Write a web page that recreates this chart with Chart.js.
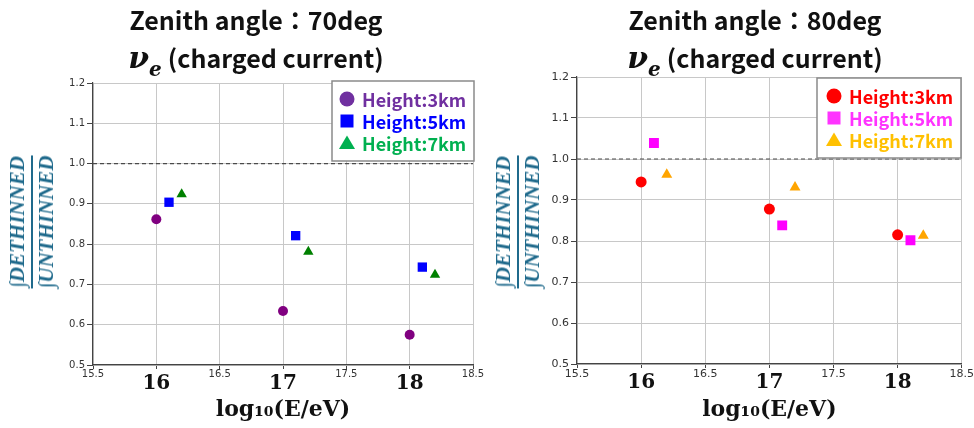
<!DOCTYPE html>
<html>
<head>
<meta charset="utf-8">
<script src="https://cdn.jsdelivr.net/npm/chart.js@4.4.0/dist/chart.umd.min.js"></script>
<style>
  body { margin: 0; background: #fff; }
  .wrap { display: flex; width: 974px; height: 428px; }
  .panel { position: relative; width: 487px; height: 428px; }
  .panel canvas { position: absolute; left: 0; top: 0; }
  .title {
    position: absolute; top: 0; text-align: center;
    font-family: "Noto Sans CJK JP", "Noto Sans", sans-serif;
    font-weight: bold; font-size: 25px; line-height: 38px; color: #111;
    z-index: 2;
  }
  .nu { font-family: "DejaVu Serif", serif; font-style: italic; font-weight: bold; font-size: 30px; }
  .sub { font-family: "DejaVu Serif", serif; font-style: italic; font-weight: bold; font-size: 20px;
         position: relative; top: 8px; margin-right: 6px; }
  .ylab {
    position: absolute; z-index: 2;
    transform: translate(-50%, -50%) rotate(-90deg);
    font-family: "Liberation Serif", serif; font-style: italic; font-weight: bold;
    font-size: 21px; line-height: 21px; color: #1f6a8c; white-space: nowrap; text-align: center;
  }
  .ylab .num { border-bottom: 2px solid #1f6a8c; padding-bottom: 3px; }
  .ylab .den { padding-top: 3px; }
</style>
</head>
<body>
<div class="wrap">
  <div class="panel">
    <div class="title" style="left:0;width:512px">Zenith angle：70deg<br><span class="nu">ν</span><span class="sub">e</span>(charged current)</div>
    <div class="ylab" style="left:32px;top:222px"><div class="num">∫DETHINNED</div><div class="den">∫UNTHINNED</div></div>
    <canvas id="c70" width="487" height="428"></canvas>
  </div>
  <div class="panel">
    <div class="title" style="left:0;width:536px">Zenith angle：80deg<br><span class="nu">ν</span><span class="sub">e</span>(charged current)</div>
    <div class="ylab" style="left:31px;top:222px"><div class="num">∫DETHINNED</div><div class="den">∫UNTHINNED</div></div>
    <canvas id="c80" width="487" height="428"></canvas>
  </div>
</div>
<script>
// energies (log10 E/eV), each height shifted a little so markers don't overlap
const xH3 = [16, 17, 18];
const xH5 = [16.1, 17.1, 18.1];
const xH7 = [16.2, 17.2, 18.2];

// ratio dethinned / unthinned, zenith 70deg
const ratio70H3 = [0.862, 0.634, 0.575];
const ratio70H5 = [0.904, 0.821, 0.743];
const ratio70H7 = [0.924, 0.781, 0.724];

// ratio dethinned / unthinned, zenith 80deg
const ratio80H3 = [0.944, 0.878, 0.815];
const ratio80H5 = [1.039, 0.838, 0.802];
const ratio80H7 = [0.962, 0.931, 0.813];

const seriesLabels = ['Height:3km', 'Height:5km', 'Height:7km'];
const xTickValues = [15.5, 16, 16.5, 17, 17.5, 18, 18.5];
const yTickValues = [0.5, 0.6, 0.7, 0.8, 0.9, 1.0, 1.1, 1.2];
const refLineX = [15.5, 18.5];
const refLineY = [1.0, 1.0];

const toPoints = (xs, ys) => xs.map((x, i) => ({ x: x, y: ys[i] }));
const isMajor = (c) => !!(c.tick && Number.isInteger(c.tick.value));

// white legend box drawn over the grid, inside the plot
const boxLegend = {
  id: 'boxLegend',
  afterDatasetsDraw(chart, args, opts) {
    const ctx = chart.ctx;
    ctx.save();
    ctx.fillStyle = '#fff';
    ctx.fillRect(opts.x, opts.y, opts.w, opts.h);
    ctx.strokeStyle = '#8a8a8a';
    ctx.lineWidth = 1.5;
    ctx.strokeRect(opts.x, opts.y, opts.w, opts.h);
    ctx.font = 'bold 18px "Noto Sans CJK JP", "Noto Sans", sans-serif';
    ctx.textBaseline = 'middle';
    opts.colors.forEach((col, i) => {
      const ds = chart.data.datasets[i];
      const cy = opts.rowY[i];
      const cx = opts.markX;
      ctx.fillStyle = col;
      ctx.beginPath();
      if (ds.pointStyle === 'circle') {
        ctx.arc(cx, cy, 7.5, 0, Math.PI * 2);
      } else if (ds.pointStyle === 'rect') {
        ctx.rect(cx - 6.5, cy - 6.5, 13, 13);
      } else {
        ctx.moveTo(cx, cy - 7.5);
        ctx.lineTo(cx + 8, cy + 6);
        ctx.lineTo(cx - 8, cy + 6);
        ctx.closePath();
      }
      ctx.fill();
      ctx.fillText(ds.label, opts.textX, cy + 1);
    });
    ctx.restore();
  }
};

function makeChart(id, ys, markerColors, legendColors, lay) {
  const styles = ['circle', 'rect', 'triangle'];
  const xs = [xH3, xH5, xH7];
  const datasets = ys.map((y, i) => ({
    type: 'scatter',
    label: seriesLabels[i],
    data: toPoints(xs[i], y),
    pointStyle: styles[i],
    pointRadius: lay.radius[i],
    pointHoverRadius: lay.radius[i],
    backgroundColor: markerColors[i],
    borderWidth: 0
  }));
  datasets.push({
    type: 'line',
    label: 'ref',
    data: toPoints(refLineX, refLineY),
    borderColor: '#4a4a4a',
    borderWidth: 1.2,
    borderDash: [4, 3],
    pointRadius: 0
  });

  return new Chart(document.getElementById(id), {
    type: 'scatter',
    data: { datasets: datasets },
    plugins: [boxLegend],
    options: {
      responsive: false,
      animation: false,
      layout: { padding: { top: lay.top, right: lay.right, left: 0, bottom: 0 } },
      plugins: {
        legend: { display: false },
        tooltip: { enabled: false },
        boxLegend: Object.assign({ colors: legendColors }, lay.legend)
      },
      scales: {
        x: {
          type: 'linear', min: 15.5, max: 18.5,
          afterBuildTicks: (s) => { s.ticks = xTickValues.map(v => ({ value: v })); },
          afterFit: (s) => { s.height = lay.xAxisH; },
          grid: { color: '#c8c8c8', tickColor: '#444', tickLength: 4 },
          border: { color: '#444', width: 1.2 },
          ticks: {
            padding: 0,
            maxRotation: 0,
            autoSkip: false,
            color: (c) => isMajor(c) ? '#111' : '#333',
            font: (c) => isMajor(c)
              ? { family: 'DejaVu Serif', size: 20, weight: 'bold', lineHeight: 1.5 }
              : { family: 'DejaVu Sans', size: lay.smallFont, lineHeight: 1.1 },
            callback: (v) => Number.isInteger(v) ? String(v) : v.toFixed(1)
          },
          title: {
            display: true,
            text: 'log₁₀(E/eV)',
            color: '#111',
            font: { family: 'DejaVu Serif', size: 22, weight: 'bold' },
            padding: { top: 0, bottom: 5 }
          }
        },
        y: {
          min: 0.5, max: 1.2,
          afterBuildTicks: (s) => { s.ticks = yTickValues.map(v => ({ value: v })); },
          afterFit: (s) => { s.width = lay.yAxisW; },
          grid: { color: '#c8c8c8', tickColor: '#444', tickLength: 6 },
          border: { color: '#444', width: 1.2 },
          ticks: {
            padding: 2,
            color: '#333',
            font: { family: 'DejaVu Sans', size: lay.smallFont },
            callback: (v) => v.toFixed(1)
          }
        }
      }
    }
  });
}

makeChart('c70',
  [ratio70H3, ratio70H5, ratio70H7],
  ['#800080', '#0000ff', '#008000'],
  ['#7030a0', '#0000ff', '#00b050'],
  {
    top: 83, right: 14, xAxisH: 63, yAxisW: 93, smallFont: 10,
    radius: [5, 6.6, 6],
    legend: { x: 332, y: 81, w: 142, h: 80, markX: 347, textX: 362, rowY: [99, 121, 143] }
  });

makeChart('c80',
  [ratio80H3, ratio80H5, ratio80H7],
  ['#ff0000', '#ff00ff', '#ffa500'],
  ['#ff0000', '#ff33ff', '#ffc000'],
  {
    top: 77, right: 12, xAxisH: 64, yAxisW: 90, smallFont: 11,
    radius: [5.5, 7, 6.3],
    legend: { x: 330, y: 78, w: 144, h: 80, markX: 347, textX: 362, rowY: [96, 118, 140] }
  });
</script>
</body>
</html>
